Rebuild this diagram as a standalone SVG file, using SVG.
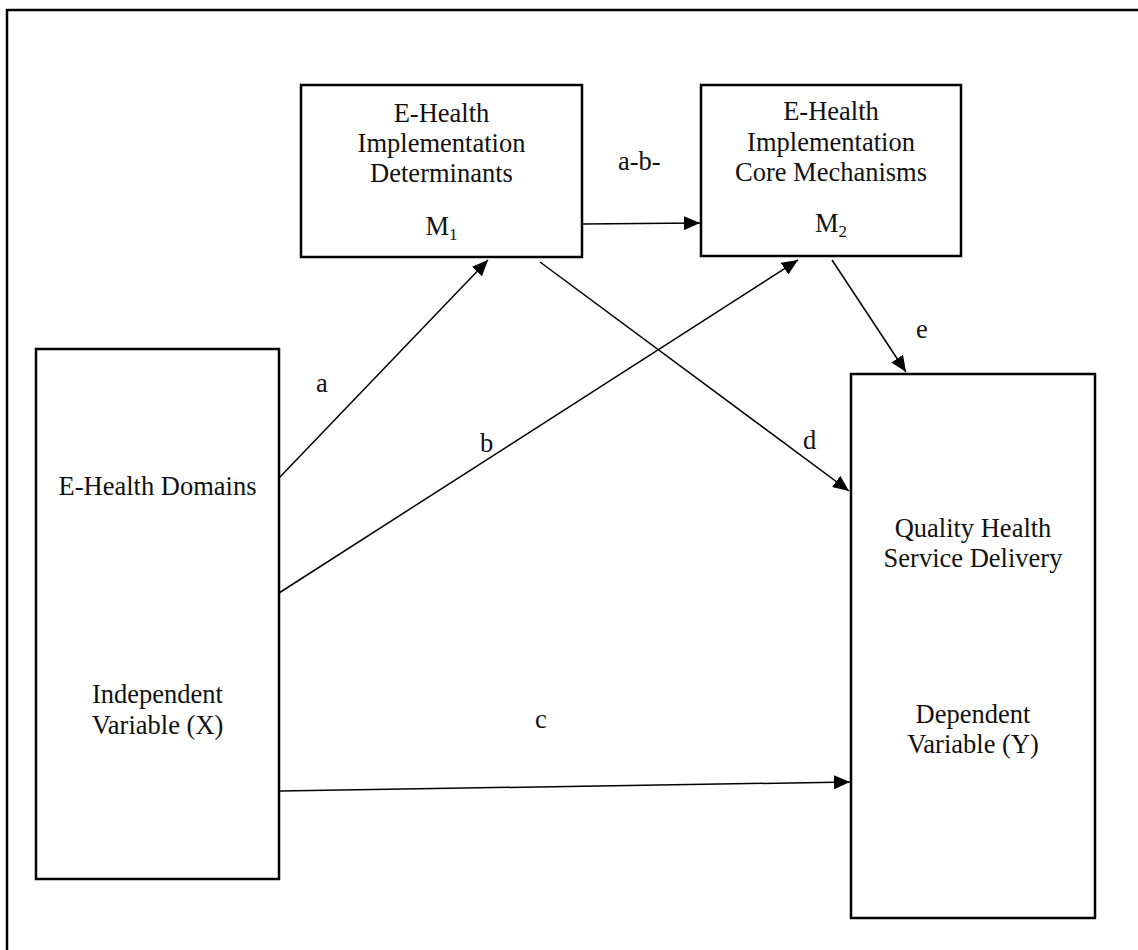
<svg xmlns="http://www.w3.org/2000/svg" width="1138" height="950" viewBox="0 0 1138 950">
  <style>
    .box { fill: #ffffff; stroke: #000000; stroke-width: 2.5; }
    .frame { fill: none; stroke: #000000; stroke-width: 2.5; }
    .txt { font-family: "Liberation Serif", "Times New Roman", serif; font-size: 26.5px; fill: #111111; text-anchor: middle; }
    .lbl { font-family: "Liberation Serif", "Times New Roman", serif; font-size: 26.5px; fill: #111111; }
    .sub { font-size: 17px; }
    .conn { fill: none; stroke: #000000; stroke-width: 1.5; marker-end: url(#arrow); }
  </style>
  <defs>
    <marker id="arrow" markerUnits="userSpaceOnUse" markerWidth="18" markerHeight="14" refX="16" refY="7" orient="auto">
      <path d="M0,0 L16,7 L0,14 Z" fill="#000000"/>
    </marker>
  </defs>

  <rect width="1138" height="950" fill="#ffffff"/>
  <!-- outer frame, continuing past the right and bottom edges -->
  <rect class="frame" x="7" y="10" width="1140" height="950"/>

  <g id="node-x">
    <rect class="box" x="36" y="349" width="243" height="530"/>
    <text class="txt" x="157.5" y="495">E-Health Domains</text>
    <text class="txt" x="157.5" y="703">Independent</text>
    <text class="txt" x="157.5" y="734">Variable (X)</text>
  </g>

  <g id="node-m1">
    <rect class="box" x="301" y="85" width="281" height="172"/>
    <text class="txt" x="441.5" y="122">E-Health</text>
    <text class="txt" x="441.5" y="152">Implementation</text>
    <text class="txt" x="441.5" y="182">Determinants</text>
    <text class="txt" x="441.5" y="235">M<tspan class="sub" dy="5">1</tspan></text>
  </g>

  <g id="node-m2">
    <rect class="box" x="701" y="85" width="260" height="171"/>
    <text class="txt" x="831" y="120">E-Health</text>
    <text class="txt" x="831" y="151">Implementation</text>
    <text class="txt" x="831" y="181">Core Mechanisms</text>
    <text class="txt" x="831" y="232">M<tspan class="sub" dy="5">2</tspan></text>
  </g>

  <g id="node-y">
    <rect class="box" x="851" y="374" width="244" height="544"/>
    <text class="txt" x="973" y="537">Quality Health</text>
    <text class="txt" x="973" y="567">Service Delivery</text>
    <text class="txt" x="973" y="723">Dependent</text>
    <text class="txt" x="973" y="753">Variable (Y)</text>
  </g>

  <g id="connectors">
    <line class="conn" x1="582" y1="224" x2="700" y2="223"/>
    <line class="conn" x1="279" y1="478" x2="488" y2="260"/>
    <line class="conn" x1="279" y1="593" x2="798" y2="260"/>
    <line class="conn" x1="540" y1="262" x2="849" y2="491"/>
    <line class="conn" x1="832" y1="260" x2="906" y2="372"/>
    <line class="conn" x1="280" y1="791" x2="850" y2="782"/>
  </g>

  <g id="labels">
    <text class="lbl" x="618" y="170">a-b-</text>
    <text class="lbl" x="316" y="392">a</text>
    <text class="lbl" x="480" y="452">b</text>
    <text class="lbl" x="803" y="449">d</text>
    <text class="lbl" x="916" y="338">e</text>
    <text class="lbl" x="535" y="728">c</text>
  </g>
</svg>
